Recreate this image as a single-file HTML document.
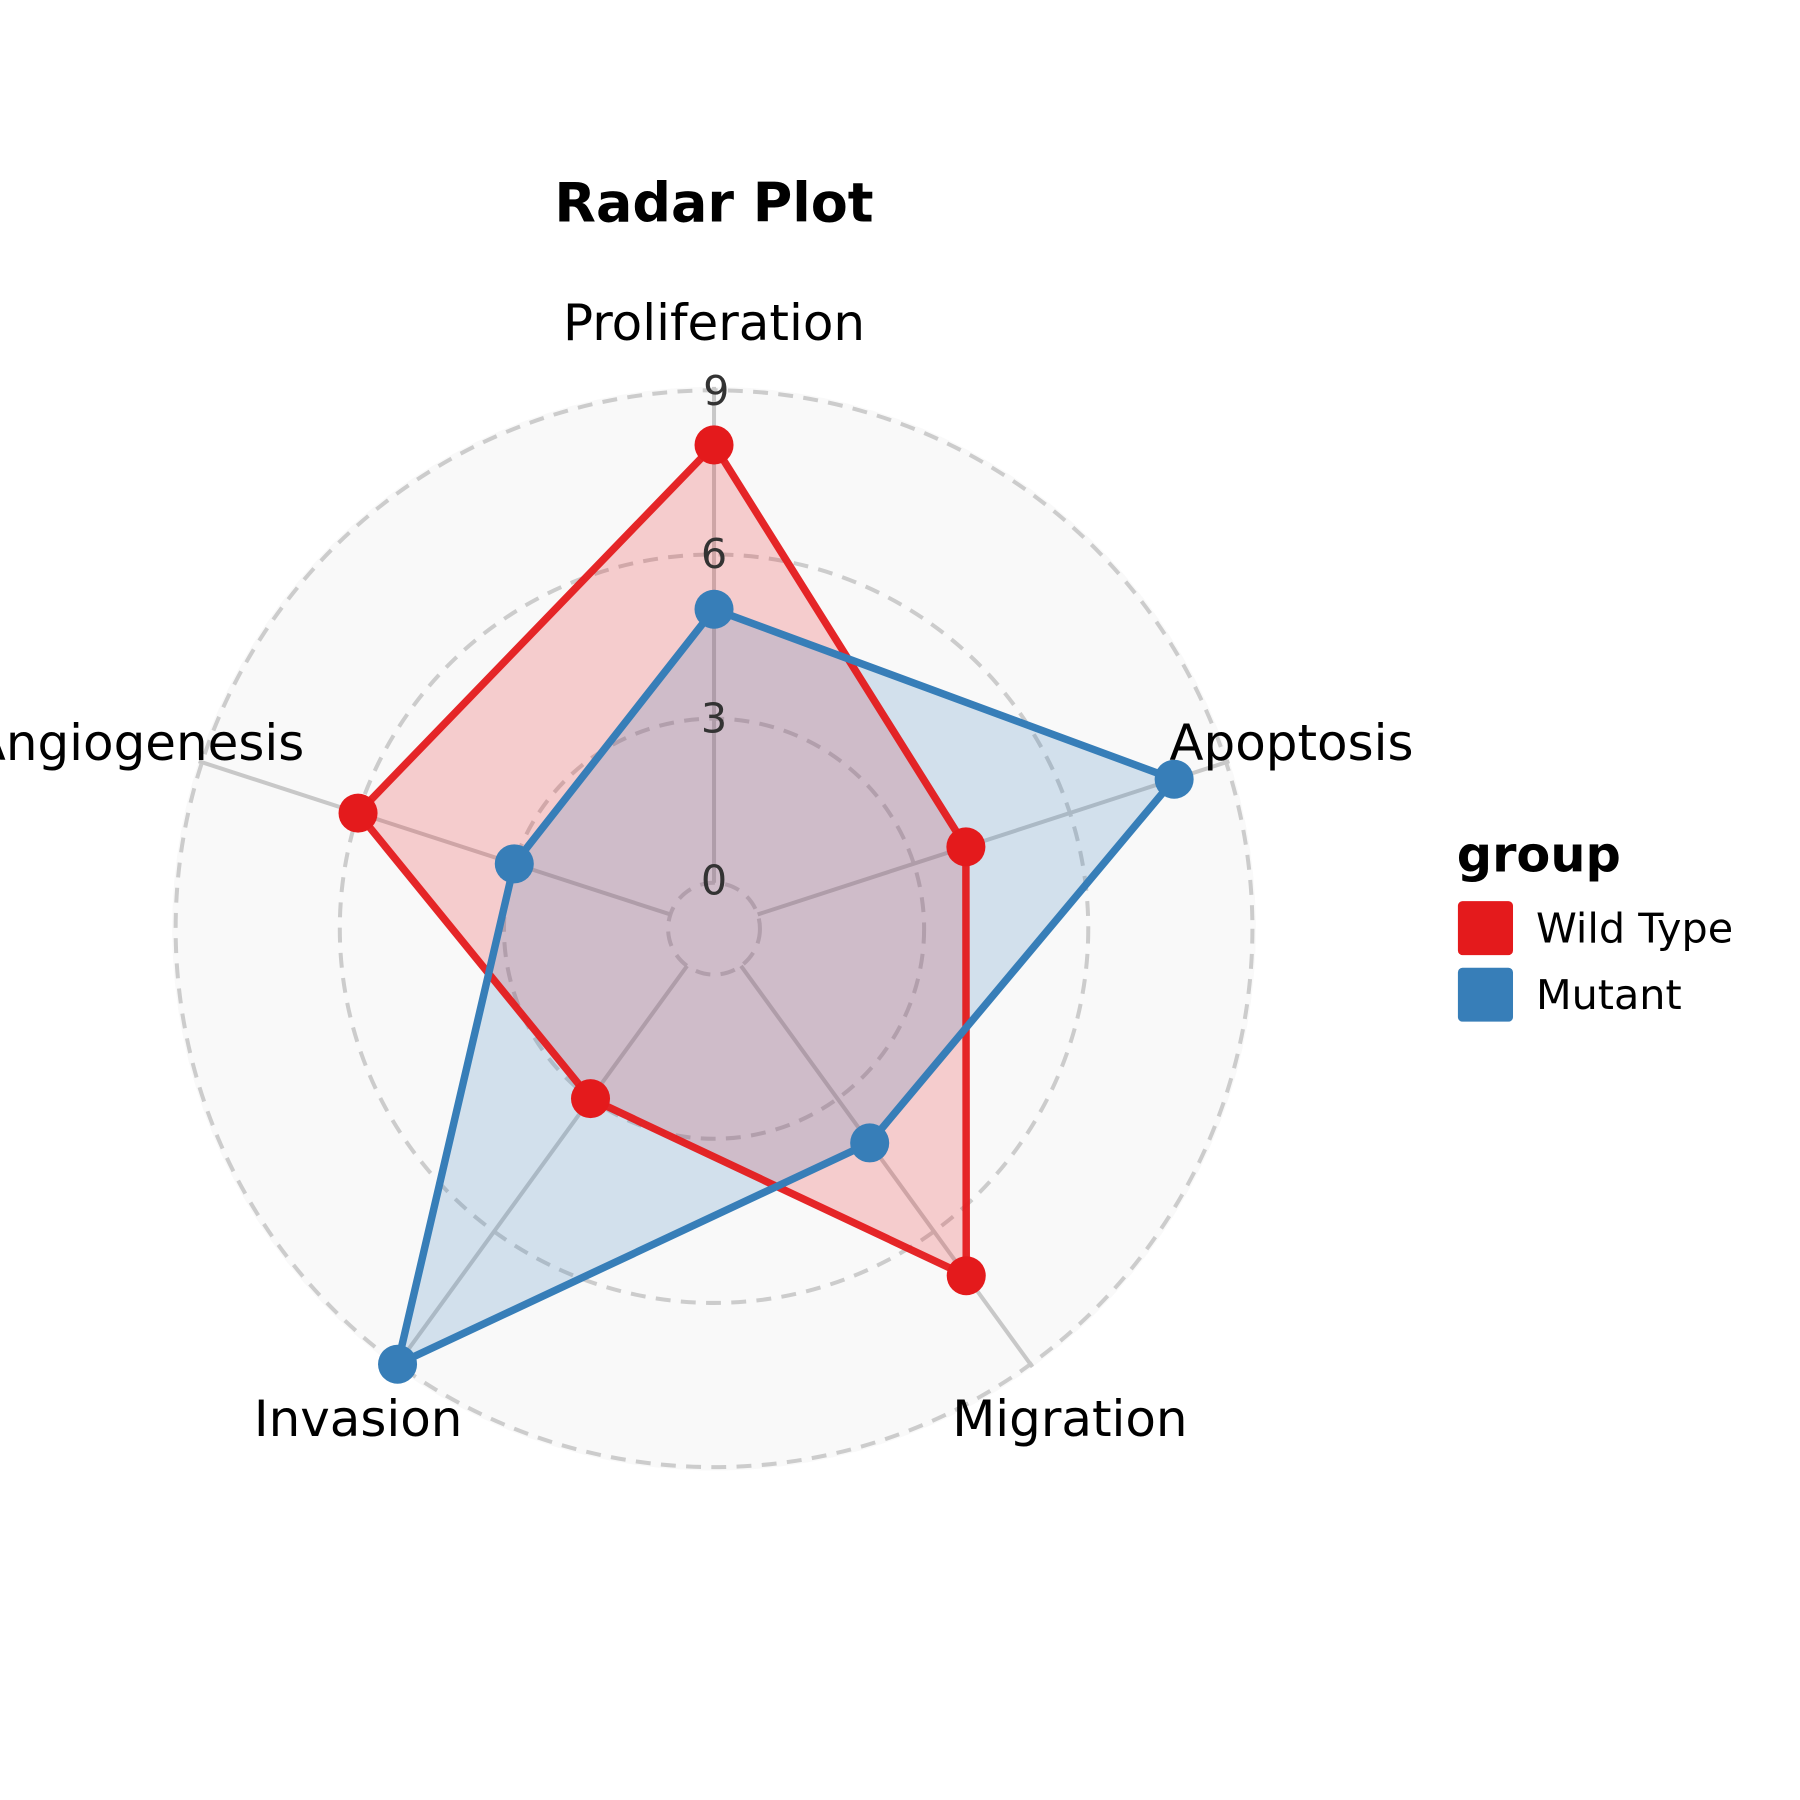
<!DOCTYPE html>
<html><head><meta charset="utf-8"><style>
html,body{margin:0;padding:0;background:#fff;}
svg{display:block;}
text{font-family:"DejaVu Sans","Liberation Sans",sans-serif;}
</style></head><body>
<svg width="1800" height="1800" viewBox="0 0 1568 1568" xmlns="http://www.w3.org/2000/svg">
<rect width="1568" height="1568" fill="#fff"/>
<circle cx="622" cy="809" r="472" fill="#f9f9f9"/>
<g fill="none" stroke="#cccccc" stroke-width="3.5" stroke-dasharray="13,9">
<circle cx="622" cy="809" r="40"/>
<circle cx="622" cy="809" r="183"/>
<circle cx="622" cy="809" r="326"/>
<circle cx="622" cy="809" r="469"/>
</g>
<g stroke="#c8c8c8" stroke-width="3.5">
<line x1="622" y1="769" x2="622" y2="337"/>
<line x1="660" y1="796.6" x2="1070.9" y2="663.1"/>
<line x1="645.5" y1="841.4" x2="899.4" y2="1190.8"/>
<line x1="598.5" y1="841.4" x2="344.6" y2="1190.8"/>
<line x1="584" y1="796.6" x2="173.1" y2="663.1"/>
</g>
<polygon points="622,387.6 841.4,737.7 841.7,1111.3 514.4,957 311.9,708.3" fill="#e41a1c" fill-opacity="0.2"/>
<polygon points="622,530.7 1022.8,678.8 757.6,995.6 346.3,1188.4 448,752.5" fill="#377eb8" fill-opacity="0.2"/>
<polygon points="622,387.6 841.4,737.7 841.7,1111.3 514.4,957 311.9,708.3" fill="none" stroke="#e41a1c" stroke-width="6.5" stroke-linejoin="round" stroke-opacity="0.95"/>
<polygon points="622,530.7 1022.8,678.8 757.6,995.6 346.3,1188.4 448,752.5" fill="none" stroke="#377eb8" stroke-width="6.5" stroke-linejoin="round"/>
<g fill="#e41a1c">
<circle cx="622" cy="387.6" r="17"/><circle cx="841.4" cy="737.7" r="17"/><circle cx="841.7" cy="1111.3" r="17"/><circle cx="514.4" cy="957" r="17"/><circle cx="311.9" cy="708.3" r="17"/>
</g>
<g fill="#377eb8">
<circle cx="622" cy="530.7" r="17"/><circle cx="1022.8" cy="678.8" r="17"/><circle cx="757.6" cy="995.6" r="17"/><circle cx="346.3" cy="1188.4" r="17"/><circle cx="448" cy="752.5" r="17"/>
</g>
<g font-size="36" fill="#333" text-anchor="middle">
<text x="622" y="779">0</text>
<text x="622" y="638">3</text>
<text x="622" y="495">6</text>
<text x="624" y="353">9</text>
</g>
<g font-size="43.5" fill="#000">
<text x="622" y="296" text-anchor="middle">Proliferation</text>
<text x="1125" y="662" text-anchor="middle">Apoptosis</text>
<text x="265" y="662" text-anchor="end">Angiogenesis</text>
<text x="312" y="1251" text-anchor="middle">Invasion</text>
<text x="932" y="1251" text-anchor="middle">Migration</text>
</g>
<text x="622" y="193" font-size="47" font-weight="bold" text-anchor="middle">Radar Plot</text>
<text x="1269" y="759" font-size="43" font-weight="bold">group</text>
<rect x="1270" y="785" width="48" height="47" rx="4" fill="#e41a1c"/>
<rect x="1270" y="843" width="48" height="47" rx="4" fill="#377eb8"/>
<text x="1338" y="821" font-size="36">Wild Type</text>
<text x="1338" y="879" font-size="36">Mutant</text>
</svg>
</body></html>
